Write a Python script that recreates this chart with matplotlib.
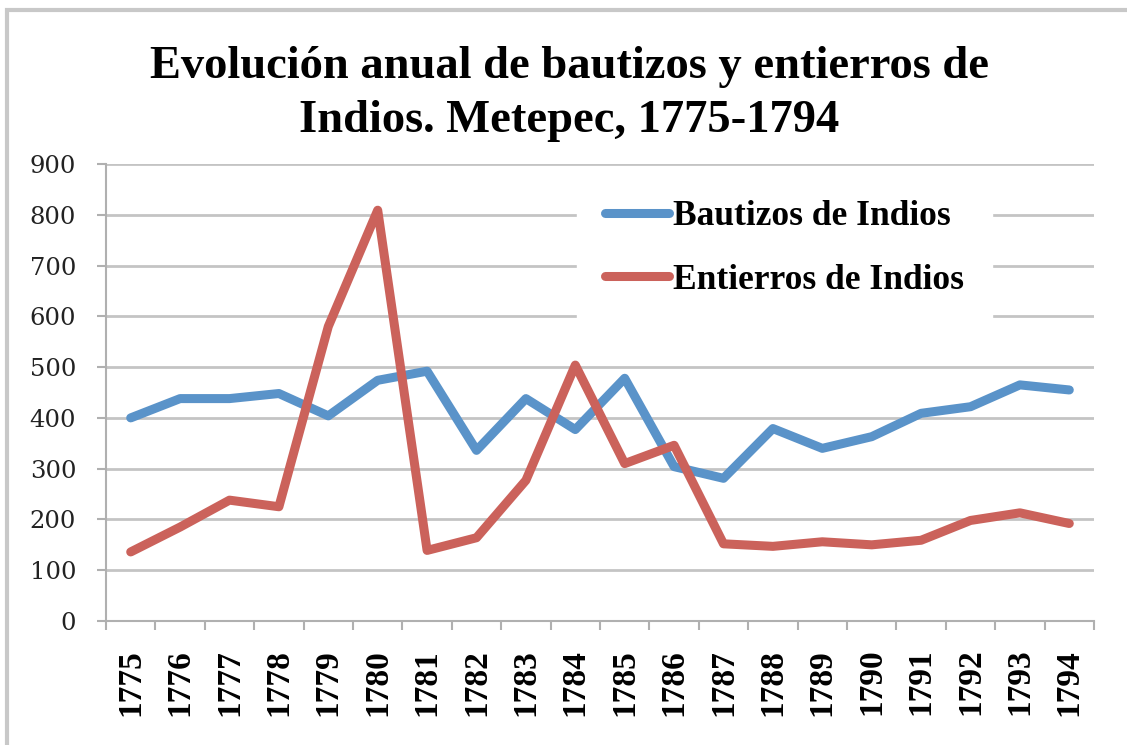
import matplotlib
matplotlib.use("Agg")
import matplotlib.pyplot as plt
from matplotlib.patches import Rectangle

years = [str(y) for y in range(1775, 1795)]
bautizos = [400, 438, 438, 448, 404, 474, 492, 336, 438, 377,
            478, 304, 281, 379, 340, 363, 409, 422, 465, 455]
entierros = [136, 185, 238, 225, 580, 809, 139, 164, 277, 504,
             310, 346, 152, 147, 156, 150, 159, 198, 213, 192]
yticks = list(range(0, 1000, 100))

title = "Evolución anual de bautizos y entierros de\nIndios. Metepec, 1775-1794"
serif = ["Liberation Serif", "DejaVu Serif"]

W, H = 1127, 745
fig = plt.figure(figsize=(W / 100, H / 100), dpi=100)
ax = fig.add_axes([106 / W, 1 - 621 / H, (1094 - 106) / W, (621 - 164) / H])

x = list(range(len(years)))
ax.plot(x, bautizos, color="#5a93c9", lw=6.5, solid_capstyle="round",
        solid_joinstyle="round", label="Bautizos de Indios", zorder=3)
ax.plot(x, entierros, color="#cb625b", lw=6.5, solid_capstyle="round",
        solid_joinstyle="round", label="Entierros de Indios", zorder=3)

ax.set_xlim(-0.5, len(years) - 0.5)
ax.set_ylim(0, 900)
ax.set_yticks(yticks)
ax.set_yticklabels([str(v) for v in yticks], fontfamily=["DejaVu Serif"],
                   fontsize=17.5, color="#222222")
ax.set_xticks(x)
ax.set_xticklabels(years, rotation=90, fontfamily=serif, fontsize=24,
                   fontweight="bold")
ax.set_xticks([i - 0.5 for i in range(len(years) + 1)], minor=True)
ax.tick_params(axis="x", which="major", length=0, pad=20)
ax.tick_params(axis="x", which="minor", length=6.5, width=1.5, color="#b0b0b0")
ax.tick_params(axis="y", length=6.5, width=1.5, color="#b0b0b0", pad=15)

ax.grid(axis="y", color="#c4c4c4", lw=2, zorder=0)
for s in ["top", "right"]:
    ax.spines[s].set_visible(False)
for s in ["left", "bottom"]:
    ax.spines[s].set_color("#b0b0b0")
    ax.spines[s].set_linewidth(1.5)

leg = ax.legend(loc="upper left", bbox_to_anchor=(577 / W, 1 - 172 / H),
                bbox_transform=fig.transFigure, frameon=True, borderaxespad=0,
                prop={"family": serif, "size": 25.5, "weight": "bold"},
                handlelength=1.8, handletextpad=0.1, labelspacing=0.86,
                borderpad=0.8, fancybox=False)
leg.get_frame().set_edgecolor("white")
leg.get_frame().set_facecolor("white")
leg.get_frame().set_alpha(1)
for h in leg.get_lines():
    h.set_linewidth(6.5)

fig.text(0.505, 1 - 46 / H, title, ha="center", va="top", fontsize=33.5,
         fontweight="bold", fontfamily=serif, linespacing=1.38)

fig.patches.append(Rectangle((7 / W, -0.05), 1.2, 1.05 - 10 / H,
                             transform=fig.transFigure, fill=False,
                             edgecolor="#c8c8c8", lw=3))

fig.savefig("out.png", dpi=100)
